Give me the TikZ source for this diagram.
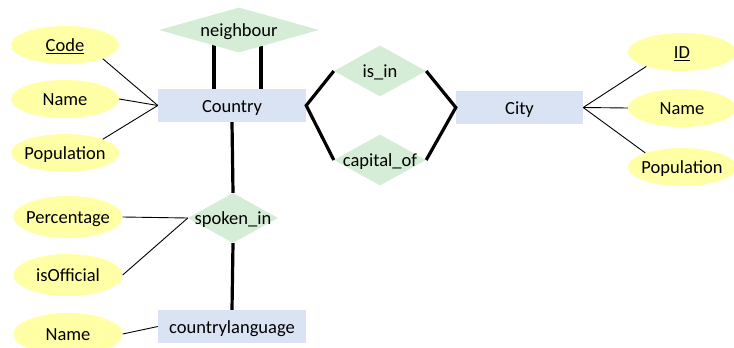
\documentclass[tikz,border=0pt]{standalone}
\usepackage{fontspec}
\setmainfont{Carlito}
\usetikzlibrary{shapes.geometric}
\definecolor{attrfill}{RGB}{255,255,166}
\definecolor{relfill}{RGB}{213,237,214}
\definecolor{entfill}{RGB}{218,227,243}
\pgfdeclarelayer{bg}
\pgfsetlayers{bg,main}
\begin{document}
\begin{tikzpicture}[x=1pt, y=-1pt,
  font=\fontsize{18.5}{22}\selectfont,
  txt/.style={text height=13, text depth=0, inner sep=0},
  attr/.style={ellipse, fill=attrfill, minimum width=108, minimum height=38, inner sep=0,
    label={[txt]center:#1}},
  entity/.style={rectangle, fill=entfill, minimum height=33, inner sep=0,
    label={[txt]center:#1}},
  rel/.style={diamond, fill=relfill, inner sep=0, label={[txt]center:#1}},
  attrlink/.style={line width=0.9pt},
  rellink/.style={line width=3.2pt, line join=miter}]
\useasboundingbox (0,0) rectangle (734,348);

% Country entity and its attributes
\node[attr={\underline{Code}}] (code)  at (65,45)  {};
\node[attr=Name]               (cname) at (65,99)  {};
\node[attr=Population]         (cpop)  at (65,153) {};
\node[entity=Country, minimum width=148] (country) at (232,105.5) {};

% relationships
\node[rel=neighbour, minimum width=160, minimum height=45] (nb) at (239,30) {};
\node[rel={is\_in}, minimum width=92, minimum height=51] (isin) at (380,71) {};
\node[rel={capital\_of}, minimum width=92, minimum height=51] (capof) at (380,160) {};
\node[rel={spoken\_in}, minimum width=90, minimum height=50] (spoken) at (233,218) {};

% City entity and its attributes
\node[entity=City, minimum width=127] (city) at (519.5,107.5) {};
\node[attr={\underline{ID}}] (id)       at (682,52)  {};
\node[attr=Name]             (cityname) at (682,108) {};
\node[attr=Population]       (citypop)  at (682,167) {};

% countrylanguage entity and attributes of spoken_in
\node[entity=countrylanguage, minimum width=148] (lang) at (232,326.5) {};
\node[attr=Percentage, minimum width=109, minimum height=42] (pct)      at (68,217) {};
\node[attr=isOfficial, minimum width=109, minimum height=42] (official) at (68,275) {};
\node[attr=Name, minimum width=109, minimum height=42]       (lname)    at (68,334) {};

% the two legs of the neighbour relationship sit behind the diamond
\begin{pgfonlayer}{bg}
  \draw[rellink] ([xshift=-25]nb.center) -- ([xshift=-25]nb.center |- country.north);
  \draw[rellink] ([xshift=22]nb.center) -- ([xshift=22]nb.center |- country.north);
\end{pgfonlayer}

% attribute links
\draw[attrlink] (code.-20) -- (country.west);
\draw[attrlink] (cname.east) -- (country.west);
\draw[attrlink] (cpop.20) -- (country.west);
\draw[attrlink] (id.-158) -- (city.east);
\draw[attrlink] (cityname.west) -- (city.east);
\draw[attrlink] (citypop.159) -- (city.east);
\draw[attrlink] (pct.east) -- (spoken.west);
\draw[attrlink] (official.east) -- (spoken.west);
\draw[attrlink] (lname.east) -- (lang.west);

% relationship links
\draw[rellink] (isin.west) -- (country.east) -- (capof.west);
\draw[rellink] (isin.east) -- (city.west) -- (capof.east);
\draw[rellink] (country.south) -- (spoken.north);
\draw[rellink] (spoken.south) -- (lang.north);
\end{tikzpicture}
\end{document}
